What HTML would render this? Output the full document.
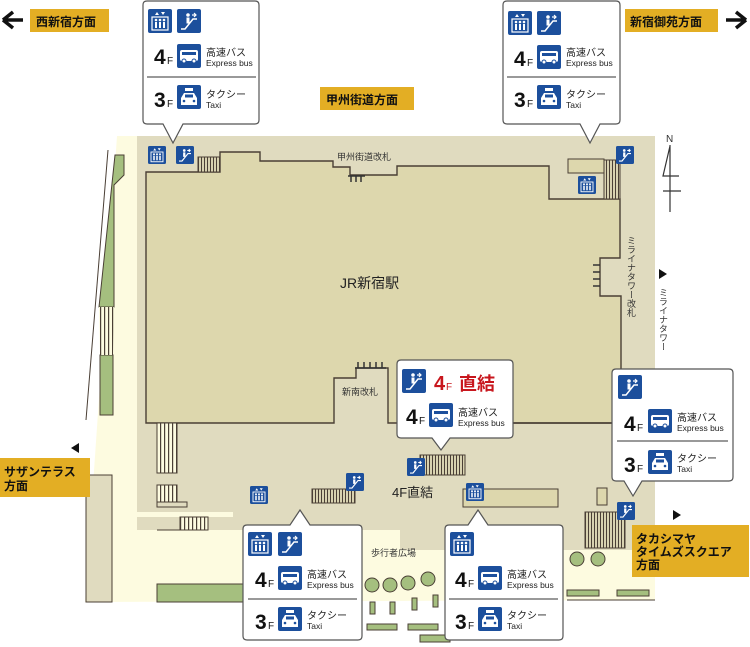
<!DOCTYPE html>
<html><head><meta charset="utf-8"><style>
html,body{margin:0;padding:0;background:#fff;}
svg{display:block;font-family:"Liberation Sans","Noto Sans CJK JP",sans-serif;}
.lb{font-weight:bold;font-size:12px;fill:#111;}
.j{font-size:10px;fill:#222;}
.e{font-size:8.5px;fill:#222;}
.big{font-size:21px;fill:#111;font-weight:bold;}
.fs{font-size:10px;fill:#111;}
.ml{font-size:9px;fill:#333;}
</style></head><body>
<svg width="750" height="647" viewBox="0 0 750 647" xmlns="http://www.w3.org/2000/svg">
<defs>
 <g id="elev"><rect width="24" height="24" rx="2" fill="#1c4f9c"/><rect x="4" y="8" width="16" height="13" fill="none" stroke="#fff" stroke-width="1.2"/><g fill="#fff"><circle cx="8" cy="11" r="1.3"/><circle cx="12" cy="11" r="1.3"/><circle cx="16" cy="11" r="1.3"/><rect x="7" y="13" width="2" height="6"/><rect x="11" y="13" width="2" height="6"/><rect x="15" y="13" width="2" height="6"/><path d="M7 6 L9 3 L11 6Z M13 3 L15 6 L17 3Z"/></g></g>
 <g id="esc"><rect width="24" height="24" rx="2" fill="#1c4f9c"/><path d="M4 20 H8 L16 10 H20" fill="none" stroke="#fff" stroke-width="1.5"/><circle cx="11" cy="6" r="1.8" fill="#fff"/><rect x="9.5" y="8.5" width="3" height="6" fill="#fff"/><path d="M15 6 L19 6 M17 4 L19 6 L17 8" stroke="#fff" stroke-width="1.2" fill="none"/></g>
 <g id="bus"><rect width="24" height="24" rx="2" fill="#1c4f9c"/><rect x="3" y="6" width="18" height="11" rx="2" fill="#fff"/><rect x="5" y="8" width="14" height="3" fill="#1c4f9c"/><circle cx="7" cy="17" r="2" fill="#fff" stroke="#1c4f9c"/><circle cx="17" cy="17" r="2" fill="#fff" stroke="#1c4f9c"/></g>
 <g id="taxi"><rect width="24" height="24" rx="2" fill="#1c4f9c"/><rect x="8" y="3" width="8" height="3" fill="#fff"/><path d="M4 20 V13 L7 8 H17 L20 13 V20Z" fill="#fff"/><rect x="8" y="9.5" width="8" height="3" fill="#1c4f9c"/><circle cx="7" cy="16" r="1.3" fill="#1c4f9c"/><circle cx="17" cy="16" r="1.3" fill="#1c4f9c"/></g>
 <pattern id="hat" width="3" height="4" patternUnits="userSpaceOnUse"><rect width="3" height="4" fill="#d8d2b0"/><rect width="1" height="4" fill="#4a3f35"/></pattern>
 <pattern id="vst" width="4" height="4" patternUnits="userSpaceOnUse"><rect width="4" height="4" fill="#fdfbe0"/><rect width="1.2" height="4" fill="#4a3f35"/></pattern>
</defs>

<path d="M117,136 L655,136 L655,600 L85,602 Z" fill="#fdfbe0"/>
<path d="M137,136 L655,136 L655,550 L400,550 L400,530 L137,530 Z" fill="#e0dbbf"/>
<rect x="137" y="512" width="96" height="5" fill="#fdfbe0"/>
<rect x="137" y="172" width="9" height="70" fill="#e0dbbf"/>
<path d="M146,172 H220 V152 H260 V161 H333 V167 H350 V175 H397 V166 H549 V199 H620 V258 H600 V296 H621 V423 H388 V368 H356 V378 H334 V423 H146 Z" fill="#ddd7ad" stroke="#4a3f35" stroke-width="1.4"/>
<line x1="500" y1="423" x2="612" y2="423" stroke="#4a3f35" stroke-width="1.4"/>
<g stroke="#333" stroke-width="1.5">
<line x1="351" y1="176" x2="351" y2="182"/><line x1="356" y1="176" x2="356" y2="182"/><line x1="361" y1="176" x2="361" y2="182"/><line x1="348" y1="176" x2="365" y2="176"/>
<line x1="355" y1="368" x2="386" y2="368"/><line x1="358" y1="362" x2="358" y2="368"/><line x1="364" y1="362" x2="364" y2="368"/><line x1="370" y1="362" x2="370" y2="368"/><line x1="376" y1="362" x2="376" y2="368"/><line x1="382" y1="362" x2="382" y2="368"/>
<line x1="593" y1="265" x2="600" y2="265"/><line x1="593" y1="272" x2="600" y2="272"/><line x1="593" y1="279" x2="600" y2="279"/><line x1="593" y1="286" x2="600" y2="286"/>
</g>
<rect x="198" y="157" width="22" height="15" fill="url(#hat)" stroke="#4a3f35"/>
<rect x="568" y="159" width="36" height="14" fill="#ddd7ad" stroke="#4a3f35"/>
<rect x="604" y="160" width="16" height="39" fill="url(#hat)" stroke="#4a3f35"/>
<rect x="157" y="423" width="20" height="50" fill="url(#vst)" stroke="#4a3f35"/>
<rect x="157" y="485" width="20" height="17" fill="url(#vst)" stroke="#4a3f35"/>
<rect x="157" y="502" width="30" height="5" fill="#e0dbbf" stroke="#4a3f35"/>
<rect x="180" y="517" width="28" height="13" fill="url(#vst)" stroke="#4a3f35"/>
<line x1="157" y1="530" x2="208" y2="530" stroke="#4a3f35"/>
<rect x="312" y="489" width="43" height="14" fill="url(#hat)" stroke="#4a3f35"/>
<rect x="420" y="455" width="45" height="20" fill="url(#hat)" stroke="#4a3f35"/>
<rect x="463" y="489" width="95" height="18" fill="#ddd7ad" stroke="#4a3f35"/>
<rect x="597" y="488" width="10" height="17" fill="#ddd7ad" stroke="#4a3f35"/>
<rect x="585" y="512" width="40" height="36" fill="url(#hat)" stroke="#4a3f35"/>
<path d="M115,155 H124 V175 L114,185 L114,307 H99 Z" fill="#a5bf7f" stroke="#4a3f35"/>
<path d="M100,355 H113 V415 H100 Z" fill="#a5bf7f" stroke="#4a3f35"/>
<path d="M99,307 L114,307 L113,355 L100,355 Z" fill="url(#vst)"/>
<line x1="108" y1="150" x2="86" y2="420" stroke="#4a3f35"/>
<rect x="86" y="475" width="26" height="127" fill="#e0dbbf" stroke="#4a3f35"/>
<rect x="157" y="584" width="88" height="18" fill="#a5bf7f" stroke="#4a3f35"/>
<g fill="#a5bf7f" stroke="#4a3f35">
<circle cx="372" cy="585" r="7"/><circle cx="390" cy="585" r="7"/><circle cx="408" cy="583" r="7"/><circle cx="428" cy="579" r="7"/><circle cx="577" cy="559" r="7"/><circle cx="598" cy="559" r="7"/>
<rect x="370" y="602" width="5" height="12"/><rect x="390" y="602" width="5" height="12"/><rect x="412" y="598" width="5" height="12"/><rect x="433" y="595" width="5" height="12"/>
<rect x="367" y="624" width="30" height="6"/><rect x="408" y="624" width="30" height="6"/>
<rect x="567" y="590" width="32" height="6"/><rect x="617" y="590" width="32" height="6"/>
<rect x="420" y="635" width="30" height="7"/>
</g>
<line x1="567" y1="600" x2="655" y2="600" stroke="#4a3f35"/>

<g transform="translate(148,146) scale(0.75)"><use href="#elev"/></g>
<g transform="translate(176,146) scale(0.75)"><use href="#esc"/></g>
<g transform="translate(578,176) scale(0.75)"><use href="#elev"/></g>
<g transform="translate(616,146) scale(0.75)"><use href="#esc"/></g>
<g transform="translate(407,458) scale(0.75)"><use href="#esc"/></g>
<g transform="translate(466,483) scale(0.75)"><use href="#elev"/></g>
<g transform="translate(250,486) scale(0.75)"><use href="#elev"/></g>
<g transform="translate(346,473) scale(0.75)"><use href="#esc"/></g>
<g transform="translate(617,502) scale(0.75)"><use href="#esc"/></g>

<text x="340" y="288" font-size="14" fill="#222">JR新宿駅</text>
<text x="337" y="160" class="ml">甲州街道改札</text>
<text x="342" y="395" class="ml">新南改札</text>
<text x="392" y="497" font-size="13" fill="#222">4F直結</text>
<text x="371" y="556" class="ml">歩行者広場</text>
<text x="631" y="236" class="ml" writing-mode="tb">ミライナタワー改札</text>
<text x="663" y="288" class="ml" writing-mode="tb">ミライナタワー</text>
<path d="M659,269 L667,274 L659,279Z" fill="#111"/>
<text x="666" y="142" font-size="10" fill="#333">N</text>
<path d="M670,145 V212 M663,191 H681 M670,146 L663,176 H679" fill="none" stroke="#333" stroke-width="1.2"/>

<rect x="30" y="9" width="79" height="23" fill="#e3ae24"/><text x="36" y="26" class="lb">西新宿方面</text>
<path d="M3,20 L13,12 M3,20 L13,28 M3,20 H23" stroke="#111" stroke-width="3.5" fill="none"/>
<rect x="625" y="9" width="93" height="23" fill="#e3ae24"/><text x="630" y="26" class="lb">新宿御苑方面</text>
<path d="M746,20 L736,12 M746,20 L736,28 M746,20 H726" stroke="#111" stroke-width="3.5" fill="none"/>
<rect x="320" y="87" width="94" height="23" fill="#e3ae24"/><text x="326" y="104" class="lb">甲州街道方面</text>
<rect x="0" y="458" width="90" height="39" fill="#e3ae24"/><text x="4" y="476" class="lb">サザンテラス</text><text x="4" y="490" class="lb">方面</text>
<path d="M79,443 L71,448 L79,453Z" fill="#111"/>
<rect x="632" y="525" width="117" height="52" fill="#e3ae24"/><text x="636" y="543" class="lb">タカシマヤ</text><text x="636" y="556" class="lb">タイムズスクエア</text><text x="636" y="569" class="lb">方面</text>
<path d="M673,510 L681,515 L673,520Z" fill="#111"/>

<g fill="#fff" stroke="#555" stroke-width="1.2">
<path d="M147,1 H255 Q259,1 259,5 V120 Q259,124 255,124 H183 L173,143 L163,124 H147 Q143,124 143,120 V5 Q143,1 147,1Z"/>
<path d="M507,1 H616 Q620,1 620,5 V120 Q620,124 616,124 H600 L590,143 L580,124 H507 Q503,124 503,120 V5 Q503,1 507,1Z"/>
<path d="M401,360 H509 Q513,360 513,364 V434 Q513,438 509,438 H450 L441,450 L432,438 H401 Q397,438 397,434 V364 Q397,360 401,360Z"/>
<path d="M616,369 H729 Q733,369 733,373 V477 Q733,481 729,481 H642 L633,496 L624,481 H616 Q612,481 612,477 V373 Q612,369 616,369Z"/>
<path d="M247,525 H290 L300,510 L310,525 H358 Q362,525 362,529 V636 Q362,640 358,640 H247 Q243,640 243,636 V529 Q243,525 247,525Z"/>
<path d="M449,525 H468 L478,510 L488,525 H559 Q563,525 563,529 V636 Q563,640 559,640 H449 Q445,640 445,636 V529 Q445,525 449,525Z"/>
</g>

<g transform="translate(143,0)">
<use href="#elev" x="5" y="9"/><use href="#esc" x="34" y="9"/>
<text x="11" y="64" class="big">4</text><text x="24" y="64" class="fs">F</text><use href="#bus" x="34" y="44"/>
<text x="63" y="56" class="j">高速バス</text><text x="63" y="66" class="e">Express bus</text>
<line x1="4" y1="77" x2="113" y2="77" stroke="#333"/>
<text x="11" y="107" class="big">3</text><text x="24" y="107" class="fs">F</text><use href="#taxi" x="34" y="85"/>
<text x="63" y="98" class="j">タクシー</text><text x="63" y="108" class="e">Taxi</text>
</g>
<g transform="translate(503,0)">
<use href="#elev" x="5" y="11"/><use href="#esc" x="34" y="11"/>
<text x="11" y="66" class="big">4</text><text x="24" y="66" class="fs">F</text><use href="#bus" x="34" y="45"/>
<text x="63" y="56" class="j">高速バス</text><text x="63" y="66" class="e">Express bus</text>
<line x1="4" y1="77" x2="113" y2="77" stroke="#333"/>
<text x="11" y="107" class="big">3</text><text x="24" y="107" class="fs">F</text><use href="#taxi" x="34" y="85"/>
<text x="63" y="98" class="j">タクシー</text><text x="63" y="108" class="e">Taxi</text>
</g>
<g transform="translate(397,360)">
<use href="#esc" x="5" y="9"/>
<text x="37" y="30" font-size="20" font-weight="bold" fill="#c8161d">4</text><text x="49" y="30" font-size="10" fill="#c8161d">F</text>
<text x="62" y="30" font-size="18" font-weight="bold" fill="#c8161d">直結</text>
<text x="9" y="64" class="big">4</text><text x="22" y="64" class="fs">F</text><use href="#bus" x="32" y="43"/>
<text x="61" y="56" class="j">高速バス</text><text x="61" y="66" class="e">Express bus</text>
</g>
<g transform="translate(612,369)">
<use href="#esc" x="6" y="6"/>
<text x="12" y="62" class="big">4</text><text x="25" y="62" class="fs">F</text><use href="#bus" x="36" y="40"/>
<text x="65" y="52" class="j">高速バス</text><text x="65" y="62" class="e">Express bus</text>
<line x1="5" y1="72" x2="116" y2="72" stroke="#333"/>
<text x="12" y="103" class="big">3</text><text x="25" y="103" class="fs">F</text><use href="#taxi" x="36" y="81"/>
<text x="65" y="93" class="j">タクシー</text><text x="65" y="103" class="e">Taxi</text>
</g>
<g transform="translate(243,525)">
<use href="#elev" x="5" y="7"/><use href="#esc" x="35" y="7"/>
<text x="12" y="62" class="big">4</text><text x="25" y="62" class="fs">F</text><use href="#bus" x="35" y="41"/>
<text x="64" y="53" class="j">高速バス</text><text x="64" y="63" class="e">Express bus</text>
<line x1="5" y1="74" x2="114" y2="74" stroke="#333"/>
<text x="12" y="104" class="big">3</text><text x="25" y="104" class="fs">F</text><use href="#taxi" x="35" y="82"/>
<text x="64" y="94" class="j">タクシー</text><text x="64" y="104" class="e">Taxi</text>
</g>
<g transform="translate(445,525)">
<use href="#elev" x="5" y="7"/>
<text x="10" y="62" class="big">4</text><text x="23" y="62" class="fs">F</text><use href="#bus" x="33" y="41"/>
<text x="62" y="53" class="j">高速バス</text><text x="62" y="63" class="e">Express bus</text>
<line x1="4" y1="74" x2="113" y2="74" stroke="#333"/>
<text x="10" y="104" class="big">3</text><text x="23" y="104" class="fs">F</text><use href="#taxi" x="33" y="82"/>
<text x="62" y="94" class="j">タクシー</text><text x="62" y="104" class="e">Taxi</text>
</g>
</svg>
</body></html>
